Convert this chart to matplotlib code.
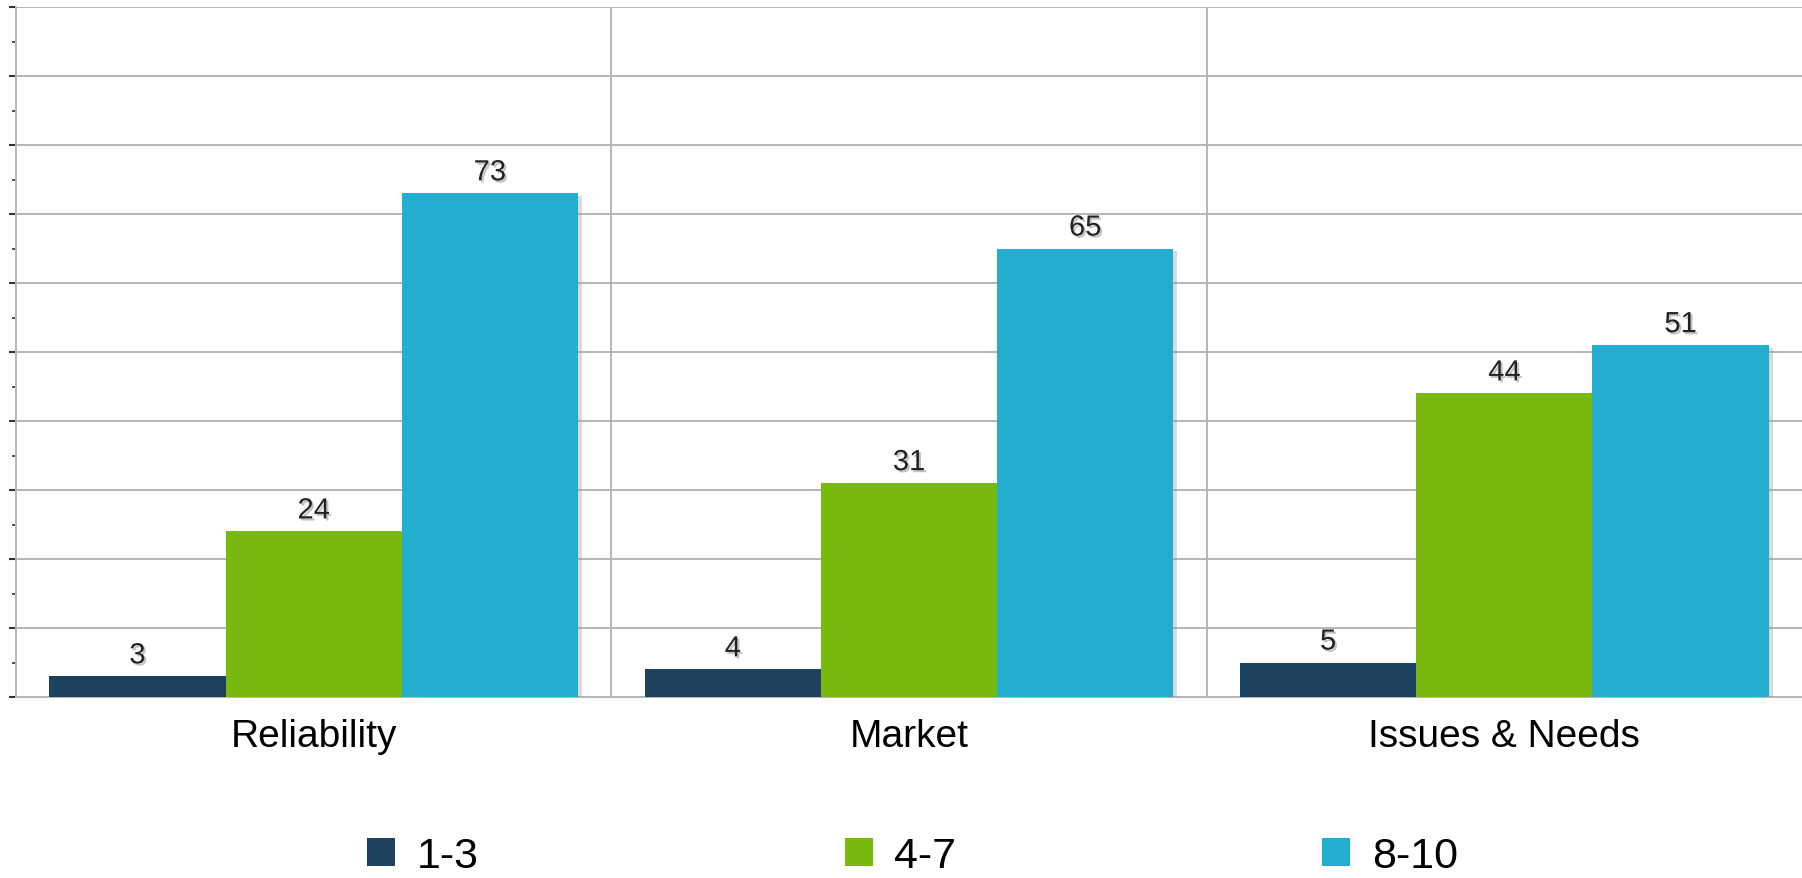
import numpy as np
import matplotlib
matplotlib.use("Agg")
import matplotlib.pyplot as plt
import matplotlib.patheffects as pe
from matplotlib.patches import Patch

categories = ["Reliability", "Market", "Issues & Needs"]
series_names = ["1-3", "4-7", "8-10"]
low = [3, 4, 5]
mid = [24, 31, 44]
high = [73, 65, 51]

colors = ["#1c4260", "#79b80f", "#23adcf"]

plt.rcParams["font.family"] = ["Liberation Sans", "DejaVu Sans"]

fig = plt.figure(figsize=(18.02, 8.79), dpi=100)
ax = fig.add_axes([16 / 1802, 1 - 698 / 879, 1 - 16 / 1802, 690 / 879])

x = np.arange(len(categories))
width = 0.296
shadow = [pe.SimplePatchShadow(offset=(3, -2), shadow_rgbFace="#999999", alpha=0.35), pe.Normal()]
txt_shadow = [pe.withSimplePatchShadow(offset=(1.5, -1.5), shadow_rgbFace="#888888", alpha=0.5)]

for i, (vals, c) in enumerate(zip([low, mid, high], colors)):
    bars = ax.bar(x + (i - 1) * width, vals, width, color=c, zorder=3)
    for b in bars:
        b.set_path_effects(shadow)
    for xi, v in zip(x + (i - 1) * width, vals):
        ax.annotate(str(v), (xi, v), xytext=(0, 5), textcoords="offset points",
                    ha="center", va="bottom", fontsize=21, color="#222222",
                    path_effects=txt_shadow, zorder=4)

ax.set_xlim(-0.5, len(categories) - 0.5)
ax.set_ylim(0, 100)

# horizontal grid every 10, vertical lines between categories
ax.set_yticks(np.arange(0, 101, 10))
ax.set_yticks(np.arange(5, 100, 10), minor=True)
ax.yaxis.grid(True, color="#b5b5b5", linewidth=1.4, zorder=0)
for b in np.arange(0.5, len(categories) - 0.5, 1):
    ax.axvline(b, color="#b5b5b5", linewidth=1.4, zorder=0)
ax.set_yticklabels([])
ax.tick_params(axis="y", which="major", length=5, width=1.5, color="#333333")
ax.tick_params(axis="y", which="minor", length=3, width=1.2, color="#333333")

ax.set_xticks(x)
ax.set_xticklabels(categories, fontsize=28)
ax.tick_params(axis="x", length=0, pad=15)

for s in ["top", "right"]:
    ax.spines[s].set_visible(False)
ax.spines["left"].set_color("#b5b5b5")
ax.spines["bottom"].set_color("#b5b5b5")
ax.spines["left"].set_linewidth(1.4)
ax.spines["bottom"].set_linewidth(1.4)

handles = [Patch(facecolor=c) for c in colors]
fig.legend(handles, series_names, loc="center", bbox_to_anchor=(0.5065, 1 - 857 / 879),
           ncol=3, frameon=False, fontsize=31, handlelength=0.65, handleheight=0.65,
           handletextpad=0.5, columnspacing=8.5)

fig.savefig("out.png", dpi=100)
